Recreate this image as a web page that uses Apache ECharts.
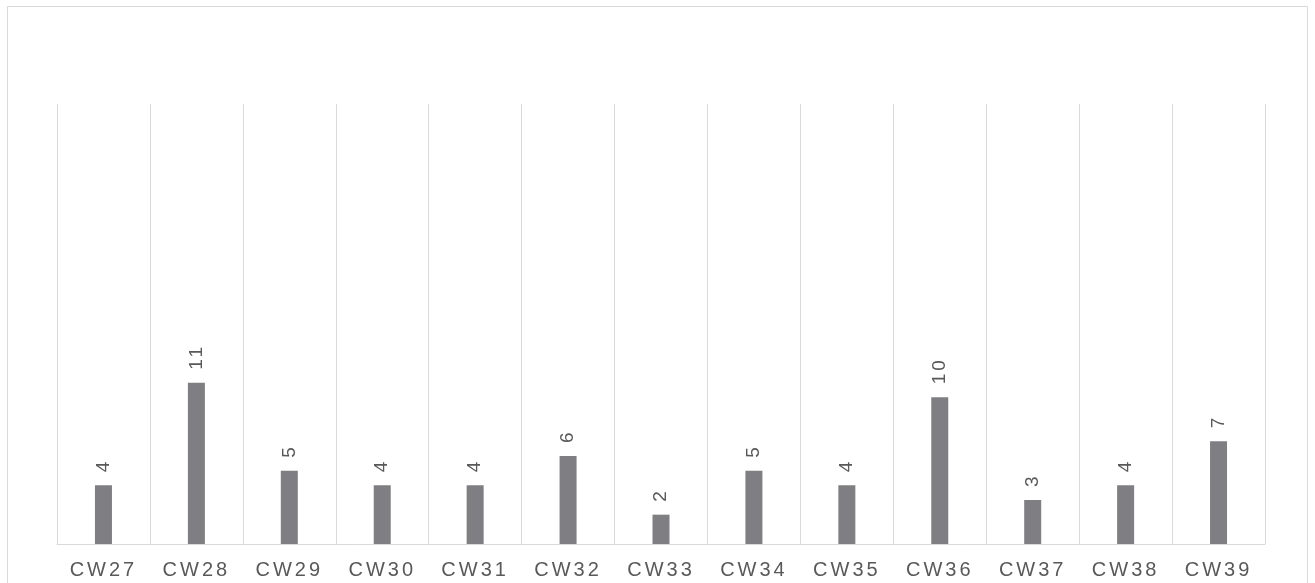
<!DOCTYPE html>
<html><head><meta charset="utf-8">
<script src="https://cdn.jsdelivr.net/npm/echarts@6/dist/echarts.min.js"></script>
<style>html,body{margin:0;padding:0;background:#fff}#c{width:1315px;height:583px}</style>
</head><body><div id="c"></div>
<script>
const categories = ['CW27','CW28','CW29','CW30','CW31','CW32','CW33','CW34','CW35','CW36','CW37','CW38','CW39'];
const values = [4,11,5,4,4,6,2,5,4,10,3,4,7];
// wide letter spacing like the reference text
(function(){
  const orig = CanvasRenderingContext2D.prototype.fillText;
  CanvasRenderingContext2D.prototype.fillText = function(){
    try { this.letterSpacing = '3px'; } catch(e) {}
    return orig.apply(this, arguments);
  };
})();
const chart = echarts.init(document.getElementById('c'));
chart.setOption({
  animation:false,
  graphic:[{type:'rect',shape:{x:7.5,y:6.5,width:1300,height:620},style:{fill:'none',stroke:'#d9d9d9',lineWidth:1},silent:true,z:-1}],
  grid:{left:57,right:50,top:104,bottom:39},
  xAxis:{type:'category',data:categories,boundaryGap:true,
    axisLine:{lineStyle:{color:'#d9d9d9',width:1}},axisTick:{show:false},
    splitLine:{show:true,interval:0,lineStyle:{color:'#d9d9d9',width:1}},
    axisLabel:{color:'#595959',fontSize:20,margin:16,fontFamily:'Liberation Sans, Arial'}},
  yAxis:{type:'value',min:0,max:30,show:false,splitLine:{show:false}},
  series:[{type:'bar',data:values,barWidth:17,itemStyle:{color:'#7f7f83'},
    label:{show:true,position:'top',rotate:90,align:'left',verticalAlign:'middle',distance:13,color:'#595959',fontSize:19,fontFamily:'Liberation Sans, Arial'}}]
});
</script></body></html>
